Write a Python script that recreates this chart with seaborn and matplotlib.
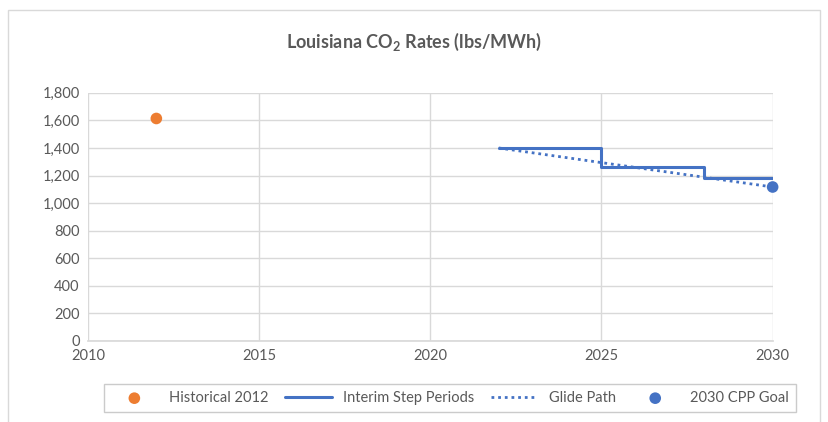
import matplotlib
matplotlib.use("Agg")
import matplotlib.pyplot as plt
from matplotlib.patches import Rectangle
from matplotlib.ticker import FuncFormatter
import seaborn as sns
import pandas as pd

# values
hist_year = [2012]
hist_rate = [1614]
step_years = [2022, 2025, 2028, 2030]
step_rates = [1400, 1265, 1180, 1180]
glide_years = [2022, 2030]
glide_rates = [1400, 1117]
goal_year = [2030]
goal_rate = [1117]

blue = "#4472C4"
orange = "#ED7D31"
grey_txt = "#595959"

sns.set_theme(style="white")
plt.rcParams["font.family"] = ["Lato", "DejaVu Sans"]
plt.rcParams["mathtext.default"] = "regular"

fig = plt.figure(figsize=(8.29, 4.22), dpi=100)
ax = fig.add_axes([0.106, 0.192, 0.826, 0.588])

sns.scatterplot(x=hist_year, y=hist_rate, ax=ax, color=orange, s=70,
                edgecolor="none", label="Historical 2012", zorder=4)
sns.lineplot(x=step_years, y=step_rates, ax=ax, color=blue, linewidth=2.2,
             drawstyle="steps-post", label="Interim Step Periods", zorder=3)
sns.lineplot(x=glide_years, y=glide_rates, ax=ax, color=blue, linewidth=2.0,
             linestyle=(0, (1, 1.4)), label="Glide Path", zorder=3)
sns.scatterplot(x=goal_year, y=goal_rate, ax=ax, color=blue, s=70,
                edgecolor="none", label="2030 CPP Goal", zorder=4, clip_on=False)

ax.set_xlim(2010, 2030)
ax.set_ylim(0, 1800)
ax.set_xticks(range(2010, 2031, 5))
ax.set_yticks(range(0, 1801, 200))
ax.yaxis.set_major_formatter(FuncFormatter(lambda v, p: f"{int(v):,}"))
ax.grid(True, color="#d9d9d9", linewidth=1)
ax.set_axisbelow(True)
for s in ["top", "right", "left"]:
    ax.spines[s].set_visible(False)
ax.spines["bottom"].set_color("#d9d9d9")
ax.tick_params(axis="both", labelsize=10.5, colors=grey_txt, length=0, pad=6)
ax.set_xlabel("")
ax.set_ylabel("")

fig.text(0.5, 1 - 42 / 422, "Louisiana CO$_2$ Rates (lbs/MWh)", ha="center",
         va="center", fontsize=13, fontweight="bold", color=grey_txt)

handles, labels = ax.get_legend_handles_labels()
ax.get_legend().remove()
leg = fig.legend(handles, labels, loc="center", ncol=4,
                 bbox_to_anchor=(450 / 829, 1 - 398 / 422), fontsize=10.5,
                 frameon=True, fancybox=False, edgecolor="#bfbfbf",
                 handlelength=3.2, columnspacing=1.1, borderpad=0.5)
for t in leg.get_texts():
    t.set_color(grey_txt)
leg.get_frame().set_linewidth(1)

fig.patches.append(Rectangle((8 / 829, -0.1), 812 / 829, 1.1 - 10 / 422,
                             transform=fig.transFigure, fill=False,
                             edgecolor="#d9d9d9", linewidth=1))

fig.savefig("out.png", dpi=100)
